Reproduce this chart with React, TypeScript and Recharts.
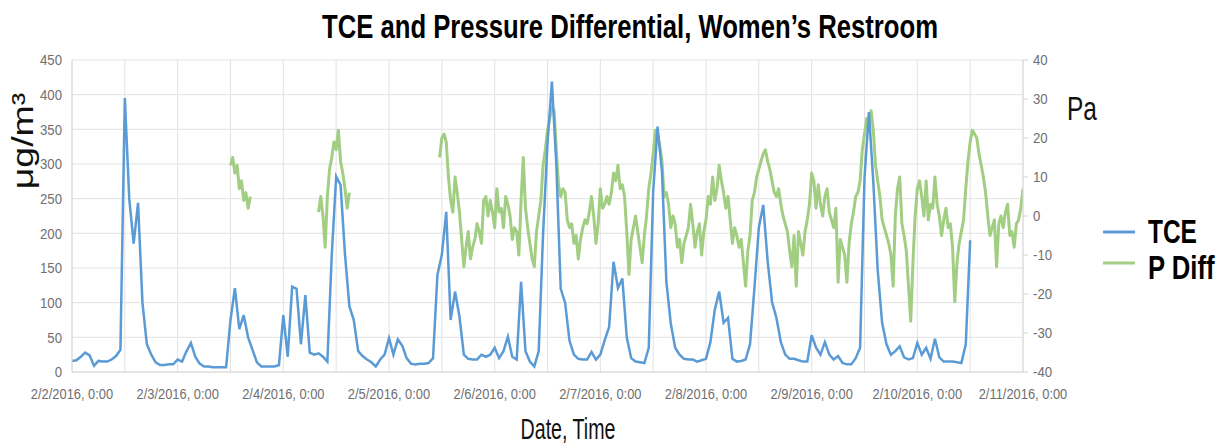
import React from 'react';
import { LineChart, Line, XAxis, YAxis, CartesianGrid } from 'recharts';

const dayLabels = [
  '2/2/2016, 0:00', '2/3/2016, 0:00', '2/4/2016, 0:00', '2/5/2016, 0:00', '2/6/2016, 0:00',
  '2/7/2016, 0:00', '2/8/2016, 0:00', '2/9/2016, 0:00', '2/10/2016, 0:00', '2/11/2016, 0:00',
];

const hourTicks = [0, 12, 24, 36, 48, 60, 72, 84, 96, 108, 120, 132, 144, 156, 168, 180, 192, 204, 216];
const leftTicks = [0, 50, 100, 150, 200, 250, 300, 350, 400, 450];
const rightTicks = [-40, -30, -20, -10, 0, 10, 20, 30, 40];

// TCE (µg/m³), hourly from 2/2/2016 0:00
const tceValues = [
  16, 17, 22, 28, 24, 9, 16, 15, 15, 18, 23, 32, 395, 250, 185, 244, 100, 40, 25, 14, 10, 10, 11, 11,
  18, 15, 30, 42, 22, 12, 8, 8, 7, 7, 7, 7, 75, 121, 62, 82, 50, 32, 14, 8, 8, 8, 8, 10,
  82, 22, 123, 120, 40, 111, 28, 25, 27, 22, 15, 169, 282, 270, 170, 95, 75, 30, 23, 18, 14, 8, 18, 25,
  49, 25, 47, 38, 20, 12, 11, 12, 12, 13, 20, 140, 169, 231, 75, 116, 80, 25, 19, 18, 18, 25, 22, 25,
  35, 20, 30, 51, 22, 18, 130, 30, 15, 8, 30, 200, 330, 419, 300, 120, 100, 45, 25, 19, 18, 18, 29, 18,
  25, 46, 65, 159, 121, 135, 50, 20, 15, 14, 13, 35, 260, 354, 289, 130, 70, 35, 25, 19, 18, 18, 15, 17,
  19, 43, 90, 116, 71, 78, 19, 15, 16, 18, 40, 121, 208, 241, 160, 101, 78, 43, 25, 19, 19, 17, 15, 15,
  53, 35, 25, 43, 25, 18, 23, 13, 11, 11, 20, 35, 280, 375, 274, 147, 71, 40, 25, 30, 37, 21, 18, 20,
  42, 25, 35, 19, 48, 21, 15, 15, 15, 14, 13, 40, 190,
];

// Pressure differential (Pa), half-hourly readings; each segment starts at the given hour
const pDiffStart1 = 36;
const pDiffValues1 = [13, 15, 11, 13, 7, 9, 4, 6, 2, 5];

const pDiffStart2 = 56;
const pDiffValues2 = [1, 5, 0, -8, 5, 12, 15, 19, 17, 22, 14, 11, 7, 2, 6];

const pDiffStart3 = 83.5;
const pDiffValues3 = [
  15,
  20, 21, 19, 10, 4, 1, 10, 6, 1, -6, -13, -8,
  -4, -11, -8, -6, -2, -4, -7, 4, 5, 0, 4, 1,
  -3, 7, 1, 2, -3, 5, 3, 0, -6, -3, -4, -10,
  4, 15, 2, -3, -7, -11, -13, -4, 0, 4, 13, 17,
  22, 25, 28, 27, 17, 8, 5, 7, 6, -1, -3, -2,
  -7, -5, -11, -6, -3, -1, -2, 1, 5, 0, -7, -2,
  7, 2, 3, 5, 3, 6, 11, 9, 13, 7, 8, 5,
  -4, -15, -6, -3, 0, -4, -8, -12, -5, 0, 7, 11,
  16, 22, 21, 18, 14, 5, 6, 3, -3, 0, -2, -8,
  -6, -12, -7, -5, -3, 3, -2, -8, -4, -2, -10, -4,
  -1, 5, 3, 10, 4, 7, 13, 9, 6, 2, 5, -1,
  -7, -3, -5, -8, -6, -12, -18, -9, -5, 4, 6, 10,
  12, 14, 16, 17, 14, 12, 9, 6, 5, 7, 3, 0,
  -2, -4, -9, -13, -5, -18, -4, -7, -10, -4, -1, 3,
  11, 9, 2, 8, 3, 0, 5, 7, 1, -1, -3, 2,
  -17, -6, -8, -10, -17, -7, -2, 1, 5, 6, 9, 17,
  21, 25, 23, 27, 22, 13, 9, 5, -1, -3, -5, -7,
  -10, -18, 0, 7, 10, -2, -5, -9, -18, -27, -12, 0,
  7, 9, 5, 0, 9, -1, 3, 2, 10, 3, 0, -5,
  -1, 2, -3, -2, -8, -22, -12, -7, -4, -1, 7, 14,
  19, 22, 21, 20, 16, 13, 10, 6, 0, -5, -3, -1,
  -13, -2, 0, -3, 1, 3, -5, -4, -8, -2, -1, 2,
  7,
];

const tceRows = tceValues.map((v, i) => ({ h: i, tce: v }));

const pDiffRows: { h: number; pdiff: number | null }[] = [];
[
  [pDiffStart1, pDiffValues1],
  [pDiffStart2, pDiffValues2],
  [pDiffStart3, pDiffValues3],
].forEach(([start, vals]: any, si) => {
  if (si > 0) pDiffRows.push({ h: start - 0.25, pdiff: null });
  vals.forEach((v: number, i: number) => pDiffRows.push({ h: start + i * 0.5, pdiff: v }));
});

const TICK_FONT = "'Liberation Sans', Arial, sans-serif";
const BIG_FONT = "'Liberation Sans', Arial, sans-serif";
const BLUE = '#5B9BD5';
const GREEN = '#A1CE83';
const GRID = '#e2e2e2';
const TICK_COLOR = '#6f6f6f';

const XTick = (props: any) => {
  const { x, y, payload } = props;
  const h = payload.value as number;
  if (h % 24 !== 0) return null;
  return (
    <text
      transform={`translate(${x},${y}) scale(0.86,1)`}
      textAnchor="middle"
      dy="0.71em"
      fontFamily={TICK_FONT}
      fontSize={15}
      fill={TICK_COLOR}
    >
      {dayLabels[h / 24]}
    </text>
  );
};

const YTick = (props: any) => {
  const { x, y, payload, textAnchor } = props;
  return (
    <text
      transform={`translate(${x},${y}) scale(0.88,1)`}
      textAnchor={textAnchor}
      dy="0.355em"
      fontFamily={TICK_FONT}
      fontSize={15}
      fill={TICK_COLOR}
    >
      {payload.value}
    </text>
  );
};

export default function App() {
  return (
    <div style={{ position: 'absolute', left: 0, top: 0, width: 1230, height: 446, background: '#fff' }}>
      <LineChart width={1230} height={446} margin={{ top: 60, right: 0, bottom: 0, left: 0 }}>
        <CartesianGrid stroke={GRID} strokeWidth={1} yAxisId="left" />
        <XAxis
          dataKey="h"
          type="number"
          domain={[0, 216]}
          ticks={hourTicks}
          interval={0}
          height={74}
          tickLine={false}
          tickMargin={10}
          axisLine={{ stroke: '#d9d9d9' }}
          tick={<XTick />}
          allowDataOverflow
        />
        <YAxis
          yAxisId="left"
          orientation="left"
          width={72}
          domain={[0, 450]}
          ticks={leftTicks}
          interval={0}
          tickLine={false}
          tickMargin={4}
          axisLine={{ stroke: '#d9d9d9' }}
          tick={<YTick />}
        />
        <YAxis
          yAxisId="right"
          orientation="right"
          width={207}
          domain={[-40, 40]}
          ticks={rightTicks}
          interval={0}
          tickLine={{ stroke: '#d0d0d0' }}
          tickSize={5}
          tickMargin={5}
          axisLine={{ stroke: '#d9d9d9' }}
          tick={<YTick />}
        />
        <Line
          yAxisId="right"
          data={pDiffRows}
          dataKey="pdiff"
          type="linear"
          stroke={GREEN}
          strokeWidth={3}
          strokeLinejoin="round"
          dot={false}
          connectNulls={false}
          isAnimationActive={false}
        />
        <Line
          yAxisId="left"
          data={tceRows}
          dataKey="tce"
          type="linear"
          stroke={BLUE}
          strokeWidth={2.5}
          dot={false}
          isAnimationActive={false}
        />
      </LineChart>
      <svg
        width={1230}
        height={446}
        style={{ position: 'absolute', left: 0, top: 0, pointerEvents: 'none' }}
      >
        <text transform="translate(630,38) scale(0.755,1)" textAnchor="middle" fontFamily={BIG_FONT}
          fontWeight="bold" fontSize={34} fill="#000">
          TCE and Pressure Differential, Women’s Restroom
        </text>
        <text transform="translate(568,439) scale(0.654,1)" textAnchor="middle" fontFamily={BIG_FONT}
          fontSize={30} fill="#111">
          Date, Time
        </text>
        <text transform="translate(1067,120) scale(0.72,1)" fontFamily={BIG_FONT} fontSize={34} fill="#111">
          Pa
        </text>
        <text transform="translate(33,141) rotate(-90) scale(1.25,1)" textAnchor="middle" fontFamily={BIG_FONT}
          fontSize={30} fill="#111">
          μg/m³
        </text>
        <line x1={1103} y1={232} x2={1135} y2={232} stroke={BLUE} strokeWidth={3} />
        <line x1={1103} y1={263} x2={1135} y2={263} stroke={GREEN} strokeWidth={3} />
        <text transform="translate(1148,243) scale(0.72,1)" fontFamily={BIG_FONT} fontWeight="bold"
          fontSize={34} fill="#000">
          TCE
        </text>
        <text transform="translate(1148,279) scale(0.755,1)" fontFamily={BIG_FONT} fontWeight="bold"
          fontSize={34} fill="#000">
          P Diff
        </text>
      </svg>
    </div>
  );
}
